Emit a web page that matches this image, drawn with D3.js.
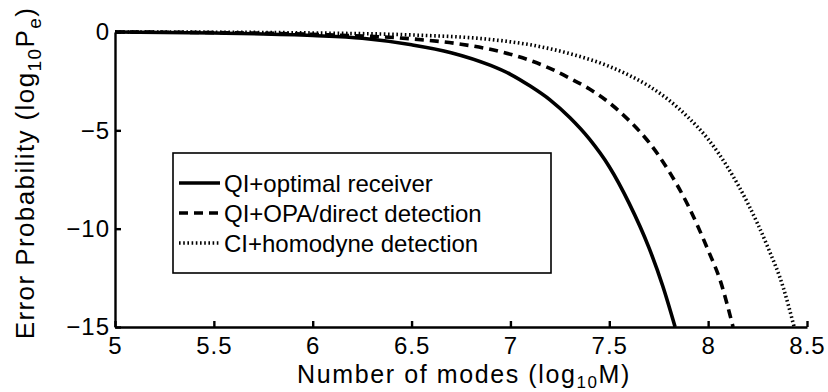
<!DOCTYPE html>
<html>
<head>
<meta charset="UTF-8">
<title>Error probability vs number of modes</title>
<script src="https://cdn.jsdelivr.net/npm/d3@7"></script>
<style>
	body { margin: 0; background: #fff; }
	text { font-family: "Liberation Sans", Arial, sans-serif; fill: #000; }
</style>
</head>
<body>
<div id="chart"></div>
<script>
// values (x = log10 M, y = log10 Pe)
var optX = [5.0, 5.5, 6.0, 6.25, 6.5, 6.7, 6.9, 7.0, 7.1, 7.2, 7.3, 7.4, 7.5, 7.6, 7.7, 7.77, 7.833];
var optY = [0, -0.05, -0.18, -0.32, -0.65, -1.05, -1.7, -2.15, -2.75, -3.45, -4.35, -5.45, -6.85, -8.7, -10.95, -12.9, -15];

var opaX = [5.0, 5.5, 6.0, 6.5, 6.75, 6.95, 7.1, 7.2, 7.3, 7.4, 7.5, 7.6, 7.7, 7.8, 7.9, 8.0, 8.06, 8.126];
var opaY = [0, -0.03, -0.12, -0.35, -0.62, -1.0, -1.45, -1.85, -2.35, -2.9, -3.6, -4.5, -5.6, -7.05, -8.85, -11.1, -12.6, -15];

var homX = [5.0, 5.5, 6.0, 6.5, 6.9, 7.1, 7.3, 7.5, 7.6, 7.7, 7.8, 7.9, 8.0, 8.1, 8.2, 8.3, 8.38, 8.435];
var homY = [0, -0.01, -0.05, -0.15, -0.38, -0.65, -1.1, -1.75, -2.2, -2.75, -3.45, -4.35, -5.45, -6.9, -8.7, -10.9, -13.0, -15];

var legendNames = ["QI+optimal receiver", "QI+OPA/direct detection", "CI+homodyne detection"];
var xTicks = [5, 5.5, 6, 6.5, 7, 7.5, 8, 8.5];
var yTicks = [0, -5, -10, -15];

var W = 828, H = 392;
var mLeft = 115, mRight = 807, mTop = 32, mBottom = 327;

var svg = d3.select("#chart").append("svg")
	.attr("width", W)
	.attr("height", H);

var x = d3.scaleLinear().domain([5, 8.5]).range([mLeft, mRight]);
var y = d3.scaleLinear().domain([-15, 0]).range([mBottom, mTop]);

// curves
var series = [
	{xs: optX, ys: optY, dash: null},
	{xs: opaX, ys: opaY, dash: "9,6"},
	{xs: homX, ys: homY, dash: "1.6,2.6"}
];

var line = d3.line()
	.x(function(d){ return x(d[0]); })
	.y(function(d){ return y(d[1]); })
	.curve(d3.curveMonotoneX);

series.forEach(function(s){
	var pts = s.xs.map(function(v, i){ return [v, s.ys[i]]; });
	svg.append("path")
		.attr("d", line(pts))
		.attr("fill", "none")
		.attr("stroke", "#000")
		.attr("stroke-width", 3.6)
		.attr("stroke-dasharray", s.dash);
});

// axes (ticks pointing inward, no box)
var xAxis = d3.axisBottom(x).tickValues(xTicks).tickSizeInner(-6).tickSizeOuter(0).tickPadding(10)
	.tickFormat(d3.format("~g"));
var yAxis = d3.axisLeft(y).tickValues(yTicks).tickSizeInner(-6).tickSizeOuter(0).tickPadding(5)
	.tickFormat(d3.format("~g"));

var gx = svg.append("g").attr("transform", "translate(0," + mBottom + ")").call(xAxis);
var gy = svg.append("g").attr("transform", "translate(" + mLeft + ",0)").call(yAxis);

[gx, gy].forEach(function(g){
	g.select(".domain").attr("stroke", "#000").attr("stroke-width", 2.4);
	g.selectAll(".tick line").attr("stroke", "#000").attr("stroke-width", 2.4);
	g.selectAll(".tick text")
		.attr("font-size", 24)
		.attr("letter-spacing", 1)
		.attr("font-family", "Liberation Sans, Arial, sans-serif");
});

// axis titles
var xt = svg.append("text")
	.attr("x", 464)
	.attr("y", 383)
	.attr("text-anchor", "middle")
	.attr("font-size", 25)
	.attr("letter-spacing", 1.6);
xt.append("tspan").text("Number of modes (log");
xt.append("tspan").attr("font-size", 17).attr("dy", 5).text("10");
xt.append("tspan").attr("dy", -5).text("M)");

var yt = svg.append("text")
	.attr("transform", "translate(34,173) rotate(-90)")
	.attr("text-anchor", "middle")
	.attr("font-size", 26)
	.attr("letter-spacing", 1.4);
yt.append("tspan").text("Error Probability (log");
yt.append("tspan").attr("font-size", 19).attr("dy", 7).text("10");
yt.append("tspan").attr("dy", -7).text("P");
yt.append("tspan").attr("font-size", 19).attr("dy", 7).text("e");
yt.append("tspan").attr("dy", -7).text(")");

// legend
var lg = svg.append("g").attr("transform", "translate(173,153)");
lg.append("rect")
	.attr("width", 378)
	.attr("height", 120)
	.attr("fill", "#fff")
	.attr("stroke", "#000")
	.attr("stroke-width", 1.6);

legendNames.forEach(function(name, i){
	var yy = 30 + i * 30;
	lg.append("line")
		.attr("x1", 6).attr("x2", 47)
		.attr("y1", yy).attr("y2", yy)
		.attr("stroke", "#000")
		.attr("stroke-width", 3.6)
		.attr("stroke-dasharray", series[i].dash);
	lg.append("text")
		.attr("x", 51)
		.attr("y", yy)
		.attr("dy", "0.36em")
		.attr("font-size", 24)
		.text(name);
});
</script>
</body>
</html>
